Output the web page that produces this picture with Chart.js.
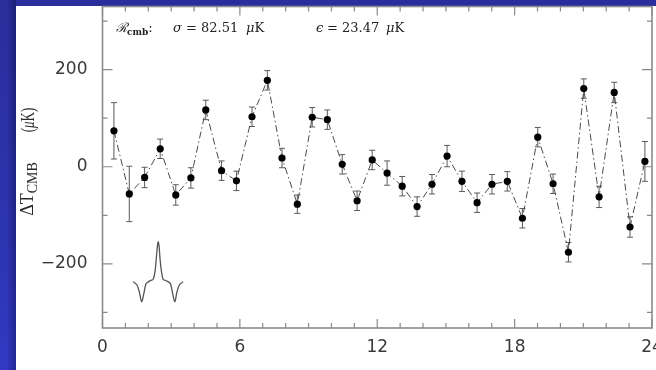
<!DOCTYPE html>
<html>
<head>
<meta charset="utf-8">
<script src="https://cdn.jsdelivr.net/npm/chart.js@4.4.1/dist/chart.umd.min.js"></script>
<style>
html, body { margin: 0; padding: 0; background: #2a2e9c; }
#frame { position: relative; width: 656px; height: 370px; overflow: hidden;
  background: linear-gradient(to bottom, #2a2e9c 0%, #2c33ad 55%, #3239c4 100%); }
#shade { position: absolute; left: 0; top: 0; width: 16px; height: 370px;
  background: linear-gradient(to right, rgba(0,0,0,0) 40%, rgba(0,0,40,0.32) 100%); }
#panel { position: absolute; left: 16px; top: 6px; width: 640px; height: 364px; background: #fff; }
#cmb { position: absolute; left: 0; top: 0; }
.hdr { position: absolute; top: 20px; font: 13px "DejaVu Serif", serif; color: #222; white-space: nowrap; line-height: 16px; }
.hdr sub { font-size: 9px; font-weight: bold; vertical-align: -3px; }
.ytitle { position: absolute; font: 18px "Liberation Serif", serif; color: #2a2a2a; white-space: nowrap;
  line-height: 20px; }
.ytitle sub { font-size: 14px; vertical-align: -4px; }
</style>
</head>
<body>
<div id="frame">
  <div id="shade"></div>
  <div id="panel"></div>
  <canvas id="cmb" width="656" height="370"></canvas>
  <span class="hdr" style="left:116px"><i>ℛ</i><sub>cmb</sub>:</span>
  <span class="hdr" style="left:173px"><i>σ</i></span>
  <span class="hdr" style="left:186px">=</span>
  <span class="hdr" style="left:201px">82.51</span>
  <span class="hdr" style="left:246px"><i>μ</i>K</span>
  <span class="hdr" style="left:316px"><i>ϵ</i></span>
  <span class="hdr" style="left:327px">=</span>
  <span class="hdr" style="left:342px">23.47</span>
  <span class="hdr" style="left:386px"><i>μ</i>K</span>
  <span class="ytitle" style="left:30px; top:189px; transform: translate(-50%, -50%) rotate(-90deg)">ΔT<sub>CMB</sub></span>
  <span class="ytitle" style="left:28px; top:120px; transform: translate(-50%, -50%) rotate(-90deg) scale(0.72, 1)">(<i>μ</i>K)</span>
</div>
<script>
/* ====== DATA ====== */
// time (hours) of each bin
var hours = [0.50, 1.17, 1.84, 2.52, 3.20, 3.86, 4.51, 5.20, 5.85, 6.53, 7.20, 7.84,
             8.51, 9.16, 9.82, 10.47, 11.12, 11.78, 12.43, 13.09, 13.74, 14.39, 15.05, 15.70,
             16.36, 17.01, 17.68, 18.34, 19.01, 19.68, 20.35, 21.02, 21.69, 22.35, 23.04, 23.69];
// Delta T_CMB (uK)
var deltaT = [74, -56, -22, 37, -58, -23, 117, -8, -29, 103, 178, 18,
              -77, 102, 97, 5, -70, 14, -13, -40, -82, -36, 22, -30,
              -74, -36, -30, -106, 61, -35, -176, 161, -62, 153, -124, 11];
// 1-sigma errors (uK)
var errT = [58, 57, 21, 20, 21, 21, 20, 20, 20, 20, 20, 20,
            19, 20, 20, 20, 20, 20, 25, 20, 20, 20, 22, 21,
            20, 20, 20, 20, 20, 20, 20, 20, 22, 21, 21, 41];

// beam profile inset (drawn in data units)
var beamX = [1.34, 1.50, 1.61, 1.71, 1.81, 1.90, 2.00, 2.11, 2.21, 2.29, 2.35, 2.40, 2.43,
             2.47, 2.51, 2.58, 2.65, 2.75, 2.87, 2.97, 3.06, 3.16, 3.25, 3.36, 3.52];
var beamY = [-237, -243, -258, -278, -260, -241, -237, -234, -232, -217, -188, -163, -154,
             -163, -188, -217, -232, -234, -237, -241, -260, -278, -258, -243, -237];

// axis ticks
var xLabelTicks = [0, 6, 12, 18, 24];
var xMinorTicks = [1, 2, 3, 4, 5, 7, 8, 9, 10, 11, 13, 14, 15, 16, 17, 19, 20, 21, 22, 23];
var yLabelTicks = [-200, 0, 200];
var yMinorTicks = [-300, -100, 100, 300];

/* ====== PLUGINS ====== */
// vertical error bars with small caps
var errorBars = {
    id: "errorBars",
    beforeDatasetsDraw: function (chart) {
        var ctx = chart.ctx;
        var ys = chart.scales.y;
        var meta = chart.getDatasetMeta(0);
        ctx.save();
        ctx.strokeStyle = "#5a5a5a";
        ctx.lineWidth = 1;
        meta.data.forEach(function (pt, i) {
            var top = ys.getPixelForValue(deltaT[i] + errT[i]);
            var bot = ys.getPixelForValue(deltaT[i] - errT[i]);
            ctx.beginPath();
            ctx.moveTo(pt.x, top); ctx.lineTo(pt.x, bot);
            ctx.moveTo(pt.x - 3, top); ctx.lineTo(pt.x + 3, top);
            ctx.moveTo(pt.x - 3, bot); ctx.lineTo(pt.x + 3, bot);
            ctx.stroke();
        });
        ctx.restore();
    }
};

// box frame with inward ticks on all four sides
var frameTicks = {
    id: "frameTicks",
    afterDraw: function (chart) {
        var ctx = chart.ctx, a = chart.chartArea;
        var xs = chart.scales.x, ys = chart.scales.y;
        ctx.save();
        ctx.strokeStyle = "#8a8a8a";
        ctx.lineWidth = 1.6;
        ctx.strokeRect(a.left, a.top, a.right - a.left, a.bottom - a.top);
        ctx.lineWidth = 1.2;
        ctx.beginPath();
        function xt(v, len) {
            var p = xs.getPixelForValue(v);
            ctx.moveTo(p, a.bottom); ctx.lineTo(p, a.bottom - len);
            ctx.moveTo(p, a.top); ctx.lineTo(p, a.top + len);
        }
        function yt(v, len) {
            var p = ys.getPixelForValue(v);
            ctx.moveTo(a.left, p); ctx.lineTo(a.left + len, p);
            ctx.moveTo(a.right, p); ctx.lineTo(a.right - len, p);
        }
        xLabelTicks.forEach(function (v) { xt(v, 9); });
        xMinorTicks.forEach(function (v) { xt(v, 5); });
        yLabelTicks.forEach(function (v) { yt(v, 10); });
        yMinorTicks.forEach(function (v) { yt(v, 5); });
        ctx.stroke();
        ctx.restore();
    }
};

/* ====== CHART ====== */
var points = hours.map(function (h, i) { return { x: h, y: deltaT[i] }; });
var beam = beamX.map(function (h, i) { return { x: h, y: beamY[i] }; });

new Chart(document.getElementById("cmb").getContext("2d"), {
    type: "line",
    data: {
        datasets: [
            {
                data: points,
                borderColor: "#4a4a4a",
                borderWidth: 1,
                borderDash: [7, 3, 1.5, 3],
                pointRadius: 3.6,
                pointBackgroundColor: "#000",
                pointBorderColor: "#000",
                pointBorderWidth: 0,
                tension: 0
            },
            {
                data: beam,
                borderColor: "#555",
                borderWidth: 1.3,
                pointRadius: 0,
                tension: 0.3
            }
        ]
    },
    options: {
        responsive: false,
        animation: false,
        layout: { padding: { left: 0, top: 6.5, right: 3.3, bottom: 0 } },
        plugins: { legend: { display: false }, tooltip: { enabled: false } },
        scales: {
            x: {
                type: "linear", min: 0, max: 24,
                grid: { display: false, drawTicks: false },
                border: { display: false },
                afterBuildTicks: function (s) { s.ticks = xLabelTicks.map(function (v) { return { value: v }; }); },
                afterFit: function (s) { s.height = 42; s.paddingLeft = 0; s.paddingRight = 0; },
                ticks: { padding: 9, maxRotation: 0, autoSkip: false, color: "#3a3a3a",
                         font: { family: "DejaVu Sans", size: 17 } }
            },
            y: {
                type: "linear", min: -332, max: 330,
                grid: { display: false, drawTicks: false },
                border: { display: false },
                afterBuildTicks: function (s) { s.ticks = yLabelTicks.map(function (v) { return { value: v }; }); },
                afterFit: function (s) { s.width = 102.5; s.paddingTop = 0; s.paddingBottom = 0; },
                ticks: { padding: 15, color: "#3a3a3a", font: { family: "DejaVu Sans", size: 17 },
                         callback: function (v) { return v < 0 ? "\u2212" + Math.abs(v) : String(v); } }
            }
        }
    },
    plugins: [errorBars, frameTicks]
});
</script>
</body>
</html>
